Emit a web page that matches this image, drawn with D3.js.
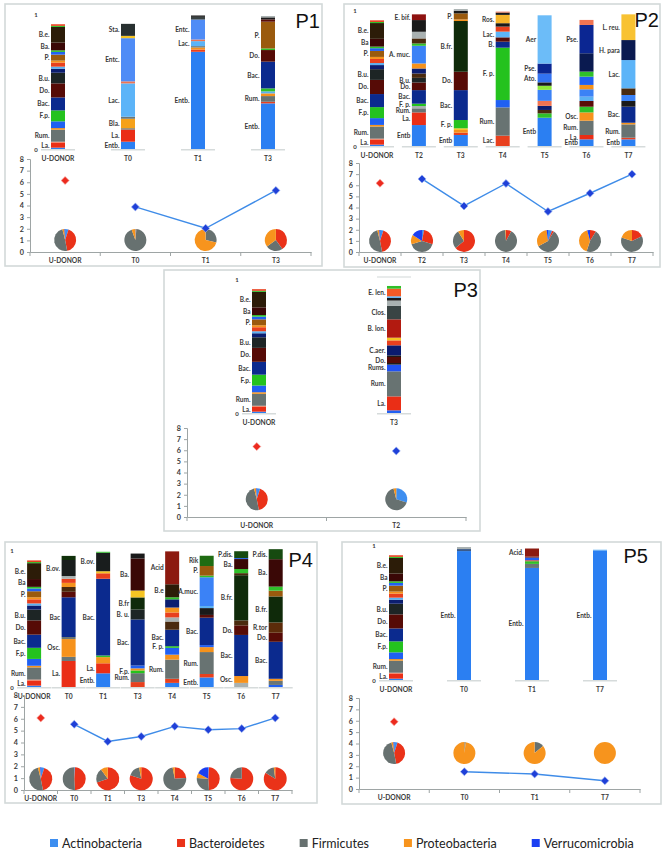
<!DOCTYPE html>
<html><head><meta charset="utf-8">
<script src="https://cdn.jsdelivr.net/npm/d3@7"></script>
<style>
body{margin:0;background:#fff}
svg{display:block}
.lab{font-family:Lato,"DejaVu Sans",sans-serif;font-weight:700;font-size:6.5px;fill:#3a3a3a}
.cat{font-family:Lato,"DejaVu Sans",sans-serif;font-weight:700;font-size:6.7px;fill:#3a3a3a}
.tick text{font-family:Lato,"DejaVu Sans",sans-serif;font-weight:700;font-size:7.2px;fill:#3a3a3a}
.ttl{font-family:"Liberation Sans",Arial,sans-serif;font-size:20px;fill:#111}
.leg{font-family:Lato,"Open Sans",sans-serif;font-size:12.5px;fill:#222}
</style>
</head><body>
<svg id="c" width="667" height="853"></svg>
<script>
// ---------------- DATA ----------------
const phyla = ["Actinobacteria","Bacteroidetes","Firmicutes","Proteobacteria","Verrucomicrobia"];

// stacked genus bars: [taxon, relative abundance, label] bottom -> top
const p1Donor = [["Entb",0.01],["La",0.037,"La."],["sal",0.007],["Rum",0.089,"Rum."],["org",0.012],["blu",0.05],["Fp",0.081,"F.p."],["Bac",0.096,"Bac."],["Do",0.104,"Do."],["Bu",0.079,"B.u."],["nav",0.03],["lblu",0.015],["red2",0.03],["org",0.015],["P",0.044,"P."],["blu",0.02],["grn",0.012],["Ba",0.057,"Ba."],["Be",0.116,"B.e."],["grn",0.008],["red2",0.012]];
const donorStack = [["Entb",0.01],["La",0.037,"La."],["sal",0.007],["Rum",0.089,"Rum."],["org",0.012],["blu",0.05],["Fp",0.081,"F.p."],["Bac",0.096,"Bac."],["Do",0.104,"Do."],["Bu",0.079,"B.u."],["nav",0.03],["lblu",0.015],["red2",0.03],["org",0.015],["P",0.044,"P."],["blu",0.02],["grn",0.012],["Ba",0.057,"Ba"],["Be",0.116,"B.e."],["grn",0.008],["red2",0.012]];

const p1BarCats = ["U-DONOR","T0","T1","T3"];
const p1T0 = [["Entb",0.054,"Entb."],["La",0.09,"La."],["gry",0.01],["Bla",0.07,"Bla."],["gry",0.015],["Lac",0.247,"Lac."],["sal",0.015],["Entc",0.32,"Entc."],["ylw",0.017],["Sta",0.089,"Sta."]];
const p1T1 = [["Entb",0.72,"Entb."],["red2",0.017],["org",0.015],["gry",0.01],["Lac",0.037,"Lac."],["sal",0.012],["Entc",0.148,"Entc."],["drkg",0.02],["drk",0.01]];
const p1T3 = [["Entb",0.338,"Entb."],["red2",0.012],["Rum",0.042,"Rum."],["org",0.02],["lblu",0.015],["grn",0.022],["Bac",0.198,"Bac."],["Do",0.086,"Do."],["grn",0.012],["P",0.198,"P."],["mar",0.017],["drk",0.015],["lgry",0.01]];
const p1Cats = ["U-DONOR","T0","T1","T3"];
const p1Shannon = [6.15,3.88,2.04,5.3];
const p1Pies = [[5,42,49,3,1],[1,0.5,93,5.5,0],[0.5,0,28,71.5,0],[0,40,25,35,0]];

const p2BarCats = ["U-DONOR","T2","T3","T4","T5","T6","T7"];
const p2T2 = [["Entb",0.154,"Entb"],["La",0.093,"La."],["Rum",0.03,"Rum."],["lgry",0.017],["Fp",0.017,"F. p."],["Bac",0.1,"Bac."],["Do",0.056,"Do."],["Bu",0.034,"B.u."],["brn",0.032],["nav",0.037],["org",0.037],["Amuc",0.13,"A. muc."],["grn",0.017],["brn",0.037],["lgry",0.049],["drk",0.086],["Ebif",0.042,"E. bif."]];
const p2T3 = [["Entb",0.081,"Entb"],["red2",0.017],["org",0.02],["ylw",0.012],["Fp",0.061,"F. p."],["Bac",0.22,"Bac."],["Do",0.135,"Do."],["Bfr",0.373,"B.fr."],["org",0.012],["P",0.044,"P."],["drk",0.02],["lgry",0.012]];
const p2T4 = [["red2",0.076,"Lac."],["Rum",0.208,"Rum."],["blu",0.054],["Fp",0.385,"F. p."],["Bac",0.044,"B."],["mar",0.032],["Lac",0.042,"Lac."],["red2",0.037],["drk",0.025],["Ros",0.061,"Ros."],["drk",0.017],["sal",0.007]];
const p2T5 = [["Entb",0.208,"Entb"],["grn",0.032],["brn",0.025],["nav",0.03],["sal",0.037],["Amuc",0.081],["lime",0.03],["drk",0.025],["Ato",0.064,"Ato."],["Pse",0.074,"Pse."],["Aer",0.355,"Aer"]];
const p2T6 = [["Entb",0.049,"Entb"],["La",0.032,"La."],["Rum",0.105,"Rum."],["Osc",0.061,"Osc."],["grn",0.042],["mar",0.042],["lblu",0.032],["Amuc",0.054],["org",0.032],["blu",0.061],["grn",0.037],["Hpara",0.135],["Pse",0.208,"Pse."],["sal",0.037]];
const p2T7 = [["Entb",0.049,"Entb"],["red2",0.012],["Rum",0.098,"Rum."],["org",0.012],["Bac",0.118,"Bac."],["drk",0.042],["Amuc",0.044],["brn",0.049],["Lac",0.208,"Lac."],["Hpara",0.147,"H. para"],["Lreu",0.189,"L. reu."]];
const p2Cats = ["U-DONOR","T2","T3","T4","T5","T6","T7"];
const p2Shannon = [6.18,6.57,4.14,6.16,3.64,5.28,7.0];
const p2Pies = [[5,42,49,3,1],[3,27,40,14,16],[0,64,27,9,0],[0,8,91,1,0],[6,3,58,31,2],[0,9,46,41,4],[0,18,62,20,0]];

const p3BarCats = ["U-DONOR","T3"];
const p3T3 = [["blu",0.02],["La",0.104,"La."],["Rum",0.187,"Rum."],["Rums",0.05,"Rums."],["drk",0.012],["Do",0.045,"Do."],["drk",0.012],["Caer",0.075,"C.aer."],["red2",0.037],["ylw",0.02],["Blon",0.137,"B. lon."],["Clos",0.1,"Clos."],["lgry",0.04],["drk",0.02],["lblu",0.012],["Elen",0.057,"E. len."],["grn",0.02]];
const p3Cats = ["U-DONOR","T2"];
const p3Shannon = [6.33,5.94];
const p3Pies = [[5,42,49,3,1],[30,0,66,4,0]];

const p4BarCats = ["U-DONOR","T0","T1","T3","T4","T5","T6","T7"];
const p4T0 = [["La",0.19,"La."],["gry",0.03],["Osc",0.13,"Osc."],["gry",0.015],["Bac",0.29,"Bac"],["mar",0.04],["brn",0.035],["org",0.03],["red2",0.03],["lgry",0.02],["Bov",0.117,"B.ov."],["dgrn",0.03]];
const p4T1 = [["Entb",0.1,"Entb."],["La",0.073,"La."],["org",0.045],["grn",0.012],["Bac",0.56,"Bac."],["red2",0.04],["ylw",0.015],["Bov",0.135,"B.ov."],["grn",0.007]];
const p4T3 = [["red2",0.036],["Rum",0.065,"Rum."],["Fp",0.02,"F.p."],["org",0.015],["blu",0.021],["Bac",0.336,"Bac."],["Bu",0.073,"B. u."],["Bfr",0.088,"B.fr"],["ylw",0.05],["Ba",0.234,"Ba."],["drk",0.036]];
const p4T4 = [["Entb",0.03],["red2",0.03],["Rum",0.14,"Rum."],["org",0.036],["blu",0.05],["Fp",0.012,"F. p."],["Bac",0.12,"Bac."],["brn",0.06],["lgry",0.03],["red2",0.036],["org",0.036],["nav",0.06],["grn",0.015],["Be",0.095,"B.e"],["Acid",0.24,"Acid"]];
const p4T5 = [["Entb",0.07,"Entb."],["red2",0.025],["Rum",0.16,"Rum."],["org",0.036],["blu",0.015],["Bac",0.2,"Bac."],["mar",0.02],["drk",0.05],["lblu",0.015],["Amuc",0.21,"A.muc."],["grn",0.012],["P",0.07,"P."],["Rik",0.075,"Rik"]];
const p4T6 = [["lgry",0.03],["Osc",0.05,"Osc."],["Bac",0.3,"Bac."],["Do",0.07,"Do."],["brn",0.036],["Bfr",0.33,"B.fr."],["brn",0.015],["grn",0.03],["Ba",0.073,"Ba."],["blu",0.007],["Pdis",0.05,"P.dis."]];
const p4T7 = [["blu",0.015],["gry",0.03],["org",0.015],["Bac",0.27,"Bac."],["Do",0.066,"Do."],["Rtor",0.075,"R.tor"],["Bfr",0.19,"B.fr."],["P",0.042],["grn",0.03],["Ba",0.2,"Ba."],["Pdis",0.073,"P.dis."]];
const p4Cats = ["U-DONOR","T0","T1","T3","T4","T5","T6","T7"];
const p4Shannon = [6.07,5.53,4.09,4.51,5.36,5.08,5.17,6.07];
const p4Pies = [[5,42,49,3,1],[1,48,51,0,0],[0,70,20,10,0],[0,80,17,3,0],[0,24,73,3,0],[1,48,27,7,17],[0,76,24,0,0],[0,84,14,2,0]];

const p5BarCats = ["U-DONOR","T0","T1","T7"];
const p5T0 = [["Entb",0.955,"Entb."],["gbl",0.015],["lgry",0.015]];
const p5T1 = [["Entb",0.83,"Entb."],["gry",0.03],["grn",0.02],["red2",0.007],["blu",0.02],["mar",0.007],["Acid",0.06,"Acid."]];
const p5T7 = [["Entb",0.96,"Entb."],["lblu",0.005]];
const p5Cats = ["U-DONOR","T0","T1","T7"];
const p5Shannon = [5.92,1.52,1.32,0.73];
const p5Pies = [[5,42,49,3,1],[0,0,2,98,0],[0,0,14,86,0],[0,0,0,100,0]];

// ---------------- STYLE ----------------
const taxColor = {
  Entb:"#2b7ff2",La:"#ea2e16",Rum:"#687372",Fp:"#24c21e",Bac:"#0b2a8e",Do:"#560b06",Bu:"#1d2525",
  P:"#9a5a0e",Ba:"#3a0806",Be:"#2c1c08",Lac:"#5cb4f8",Entc:"#4f8cf6",Sta:"#283030",Bla:"#f6a11a",
  Amuc:"#3b82f6",Ebif:"#8e1210",Bfr:"#0f2a0a",Ros:"#f7b52a",Aer:"#6cbcf8",Pse:"#0b2692",Ato:"#3272f2",
  Osc:"#f6921c",Hpara:"#0a1a50",Lreu:"#f8c232",Blon:"#b21a10",Clos:"#394444",Elen:"#f25a26",Caer:"#0a1b6e",
  Rums:"#2152f2",Bov:"#191d1d",Acid:"#8c1a10",Rik:"#1f6c12",Pdis:"#164a10",Rtor:"#5c2c0a",
  red2:"#e8401e",org:"#f5921c",gry:"#6b7676",lgry:"#a9b1b1",grn:"#2fc02a",lime:"#8ee83a",blu:"#2060f2",
  lblu:"#5ab0f2",nav:"#0c1e70",drk:"#1a1a1a",drkg:"#3a4242",brn:"#4a2a0e",mar:"#5a0c08",sal:"#f07452",
  ylw:"#f5c423",dgrn:"#10300a",gbl:"#3a5a8a"
};
const phylumColor = d3.scaleOrdinal().domain(phyla).range(["#3d8ef0","#ea3219","#677170","#f7941d","#1b3ff2"]);

const panels = [
  {title:"P1", frame:[5,4,317,262], titlePos:[320,28],
   barCats:p1BarCats, stacks:[p1Donor,p1T0,p1T1,p1T3], barRange:[58,268], barBase:149, barTop:14,
   cats:p1Cats, shannon:p1Shannon, pies:p1Pies, lineRange:[30,311], y0:252, y8:159, pieLevel:1.03, pieR:11},
  {title:"P2", frame:[344,4,316,263], titlePos:[659,27],
   barCats:p2BarCats, stacks:[donorStack,p2T2,p2T3,p2T4,p2T5,p2T6,p2T7], barRange:[377,628.4], barBase:146, barTop:10,
   cats:p2Cats, shannon:p2Shannon, pies:p2Pies, lineRange:[359,653], y0:252, y8:163, pieLevel:1.0, pieR:11},
  {title:"P3", frame:[164,270,316,261], titlePos:[478,297], topLine:true,
   barCats:p3BarCats, stacks:[donorStack,p3T3], barRange:[259,394], barBase:413, barTop:279,
   cats:p3Cats, shannon:p3Shannon, pies:p3Pies, lineRange:[187,466], y0:517, y8:428, pieLevel:1.6, pieR:11},
  {title:"P4", frame:[5,542,312,261], titlePos:[313,567],
   barCats:p4BarCats, stacks:[donorStack,p4T0,p4T1,p4T3,p4T4,p4T5,p4T6,p4T7], barRange:[34.1,275.7], barBase:687, barTop:550,
   cats:p4Cats, shannon:p4Shannon, pies:p4Pies, lineRange:[24,292], y0:790, y8:695, pieLevel:0.94, pieR:11.5},
  {title:"P5", frame:[342,542,319,262], titlePos:[648,563],
   barCats:p5BarCats, stacks:[donorStack,p5T0,p5T1,p5T7], barRange:[396,600], barBase:680, barTop:545,
   cats:p5Cats, shannon:p5Shannon, pies:p5Pies, lineRange:[359,640], y0:789, y8:698, pieLevel:3.16, pieR:11}
];

const svg = d3.select("#c");
const BW = 14;

function drawPanel(P){
  const g = svg.append("g");
  g.append("rect").attr("x",P.frame[0]).attr("y",P.frame[1]).attr("width",P.frame[2]).attr("height",P.frame[3])
    .attr("fill","#fff").attr("stroke","#d3d9d9").attr("stroke-width",1.6);
  g.append("text").attr("class","ttl").attr("x",P.titlePos[0]).attr("y",P.titlePos[1]).attr("text-anchor","end").text(P.title);

  // ---- stacked genus bars ----
  const xb = d3.scalePoint().domain(P.barCats).range(P.barRange);
  const yb = d3.scaleLinear().domain([0,1]).range([P.barBase,P.barTop]);
  const fx = xb(P.barCats[0]) - 22;
  g.append("text").attr("class","cat").style("font-size","6px").attr("x",fx).attr("y",yb(1)).attr("dominant-baseline","central").attr("text-anchor","middle").text("1");
  g.append("text").attr("class","cat").style("font-size","6px").attr("x",fx).attr("y",yb(0)).attr("dominant-baseline","central").attr("text-anchor","middle").text("0");

  P.barCats.forEach((c,i)=>{
    let cum = 0;
    const segs = P.stacks[i].map(s=>{const o={key:s[0],v0:cum,v1:cum+s[1],label:s[2]}; cum+=s[1]; return o;});
    const cx = xb(c);
    const bg = g.append("g");
    bg.append("line").attr("x1",cx-BW/2-10).attr("x2",cx+BW/2+10).attr("y1",yb(0)+0.8).attr("y2",yb(0)+0.8)
      .attr("stroke","#d6dbdb").attr("stroke-width",1.5);
    if(P.topLine && i>0){
      bg.append("line").attr("x1",cx-BW/2-10).attr("x2",cx+BW/2+10).attr("y1",yb(1)-2).attr("y2",yb(1)-2)
        .attr("stroke","#e0e4e4").attr("stroke-width",1.5);
    }
    bg.selectAll("rect").data(segs).join("rect")
      .attr("x",cx-BW/2).attr("width",BW)
      .attr("y",d=>yb(d.v1)).attr("height",d=>Math.max(0.4,yb(d.v0)-yb(d.v1)))
      .attr("fill",d=>taxColor[d.key]);
    bg.selectAll("text.lab").data(segs.filter(d=>d.label)).join("text").attr("class","lab")
      .attr("x",cx-BW/2-1.5).attr("y",d=>yb((d.v0+d.v1)/2)).attr("text-anchor","end")
      .attr("dominant-baseline","central").text(d=>d.label);
    bg.append("text").attr("class","cat").attr("x",cx).attr("y",yb(0)+8.5).attr("text-anchor","middle")
      .attr("dominant-baseline","central").text(c);
  });

  // ---- diversity line chart ----
  const xl = d3.scaleBand().domain(P.cats).range(P.lineRange).padding(0);
  const yl = d3.scaleLinear().domain([0,8]).range([P.y0,P.y8]);
  const cxl = c => xl(c) + xl.bandwidth()/2;

  const ya = g.append("g").attr("transform",`translate(${P.lineRange[0]},0)`)
    .call(d3.axisLeft(yl).ticks(8).tickSize(3).tickPadding(3).tickFormat(d3.format("d")));
  ya.select(".domain").attr("stroke","#9ea5a5");
  ya.selectAll(".tick line").attr("stroke","#9ea5a5");

  const xa = g.append("g").attr("transform",`translate(0,${P.y0})`)
    .call(d3.axisBottom(xl).tickSize(0).tickPadding(6));
  xa.select(".domain").attr("stroke","#9ea5a5");
  xa.selectAll(".tick text").style("font-size","6.7px");
  g.selectAll(null).data(d3.range(P.cats.length+1)).join("line")
    .attr("x1",i=>P.lineRange[0]+i*xl.step()).attr("x2",i=>P.lineRange[0]+i*xl.step())
    .attr("y1",P.y0).attr("y2",P.y0+4).attr("stroke","#9ea5a5");

  // pies
  const pie = d3.pie().sort(null).value(d=>d);
  const arc = d3.arc().innerRadius(0).outerRadius(P.pieR);
  P.cats.forEach((c,i)=>{
    const pg = g.append("g").attr("transform",`translate(${cxl(c)},${yl(P.pieLevel)})`);
    pg.selectAll("path").data(pie(P.pies[i])).join("path")
      .attr("d",arc).attr("fill",(d,j)=>phylumColor(phyla[j]));
  });

  // line (recipient samples)
  const rec = P.cats.map((c,i)=>({c,v:P.shannon[i],i})).filter(d=>d.i>0);
  if(rec.length>1){
    g.append("path").datum(rec).attr("fill","none").attr("stroke","#3f8ce8").attr("stroke-width",1.4)
      .attr("d",d3.line().x(d=>cxl(d.c)).y(d=>yl(d.v)));
  }
  const sym = d3.symbol().type(d3.symbolSquare).size(32);
  const pts = P.cats.map((c,i)=>({c,v:P.shannon[i],i}));
  g.selectAll(null).data(pts).join("path").attr("d",sym)
    .attr("transform",d=>`translate(${cxl(d.c)},${yl(d.v)}) rotate(45)`)
    .attr("fill",d=>d.i===0?"#ec2a1e":"#1f40d8")
    .attr("stroke",d=>d.i===0?"#f7a8a0":"#9db4f0").attr("stroke-width",0.6);
}

panels.forEach(drawPanel);

// ---- legend ----
const leg = svg.append("g");
let lx = 50;
phyla.forEach(p=>{
  leg.append("rect").attr("x",lx).attr("y",839).attr("width",8).attr("height",8).attr("fill",phylumColor(p));
  const t = leg.append("text").attr("class","leg").attr("x",lx+12).attr("y",847.5).text(p);
  lx += 12 + t.node().getComputedTextLength() + 35;
});
</script>
</body></html>
